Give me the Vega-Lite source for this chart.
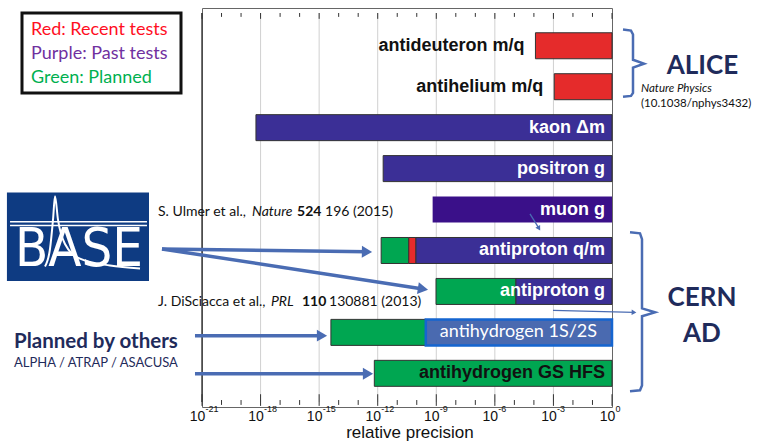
{
  "$schema": "https://vega.github.io/schema/vega-lite/v6.json",
  "width": 410,
  "height": 399,
  "autosize": {"type": "none"},
  "padding": {"left": 202, "top": 8, "right": 146, "bottom": 41},
  "background": "white",
  "config": {"view": {"stroke": "#666666", "strokeWidth": 1}},
  "datasets": {
    "bars": [
      {"row": 1, "start": 1.2e-4, "end": 1, "status": "Recent"},
      {"row": 2, "start": 1.1e-3, "end": 1, "status": "Recent"},
      {"row": 3, "start": 5.8e-19, "end": 1, "status": "Past"},
      {"row": 4, "start": 1.9e-12, "end": 1, "status": "Past"},
      {"row": 5, "start": 6.5e-10, "end": 1, "status": "Past (muon)"},
      {"row": 6, "start": 1.5e-12, "end": 3.9e-11, "status": "Planned"},
      {"row": 6, "start": 3.9e-11, "end": 9.1e-11, "status": "Recent"},
      {"row": 6, "start": 9.1e-11, "end": 1, "status": "Past"},
      {"row": 7, "start": 9.7e-10, "end": 1.2e-5, "status": "Planned"},
      {"row": 7, "start": 1.2e-5, "end": 1, "status": "Past"},
      {"row": 8, "start": 4.0e-15, "end": 2.9e-10, "status": "Planned"},
      {"row": 8, "start": 2.9e-10, "end": 1, "status": "Highlight"},
      {"row": 9, "start": 6.7e-13, "end": 1, "status": "Planned"}
    ],
    "labels": [
      {"row": 1, "label": "antideuteron m/q", "start": 1.2e-4, "end": 1, "kind": "outside"},
      {"row": 2, "label": "antihelium m/q", "start": 1.1e-3, "end": 1, "kind": "outside"},
      {"row": 3, "label": "kaon Δm", "start": 5.8e-19, "end": 1, "kind": "inside-light"},
      {"row": 4, "label": "positron g", "start": 1.9e-12, "end": 1, "kind": "inside-light"},
      {"row": 5, "label": "muon g", "start": 6.5e-10, "end": 1, "kind": "inside-light"},
      {"row": 6, "label": "antiproton q/m", "start": 1.5e-12, "end": 1, "kind": "inside-light"},
      {"row": 7, "label": "antiproton g", "start": 9.7e-10, "end": 1, "kind": "inside-light"},
      {"row": 8, "label": "antihydrogen 1S/2S", "start": 4.0e-15, "end": 1, "kind": "inside-plain"},
      {"row": 9, "label": "antihydrogen GS HFS", "start": 6.7e-13, "end": 1, "kind": "inside-dark"}
    ],
    "decades": [
      {"x": 1e-21, "major": true, "exp": "-21"}, {"x": 1e-20, "major": false}, {"x": 1e-19, "major": false},
      {"x": 1e-18, "major": true, "exp": "-18"}, {"x": 1e-17, "major": false}, {"x": 1e-16, "major": false},
      {"x": 1e-15, "major": true, "exp": "-15"}, {"x": 1e-14, "major": false}, {"x": 1e-13, "major": false},
      {"x": 1e-12, "major": true, "exp": "-12"}, {"x": 1e-11, "major": false}, {"x": 1e-10, "major": false},
      {"x": 1e-9, "major": true, "exp": "-9"}, {"x": 1e-8, "major": false}, {"x": 1e-7, "major": false},
      {"x": 1e-6, "major": true, "exp": "-6"}, {"x": 1e-5, "major": false}, {"x": 1e-4, "major": false},
      {"x": 1e-3, "major": true, "exp": "-3"}, {"x": 1e-2, "major": false}, {"x": 1e-1, "major": false},
      {"x": 1, "major": true, "exp": "0"}
    ],
    "notes": [
      {"text": "Red: Recent tests", "x": 1.74e-30, "y": 0.605, "part": "legend"},
      {"text": "Purple: Past tests", "x": 1.74e-30, "y": 1.2, "part": "legend"},
      {"text": "Green: Planned", "x": 1.74e-30, "y": 1.795, "part": "legend"},
      {"text": "S. Ulmer et al.,", "x": 5.57e-24, "y": 5.057, "part": "authors"},
      {"text": "Nature", "x": 3.64e-19, "y": 5.057, "part": "journal"},
      {"text": "524", "x": 7.35e-17, "y": 5.057, "part": "volume"},
      {"text": "196 (2015)", "x": 2.0e-15, "y": 5.057, "part": "authors"},
      {"text": "J. DiSciacca et al.,", "x": 5.57e-24, "y": 7.248, "part": "authors"},
      {"text": "PRL", "x": 3.42e-18, "y": 7.248, "part": "journal"},
      {"text": "110", "x": 1.32e-16, "y": 7.248, "part": "volume"},
      {"text": "130881 (2013)", "x": 3.2e-15, "y": 7.248, "part": "authors"},
      {"text": "Planned by others", "x": 2.35e-31, "y": 8.224, "part": "heading"},
      {"text": "ALPHA / ATRAP / ASACUSA", "x": 2.35e-31, "y": 8.748, "part": "members"},
      {"text": "ALICE", "x": 4.3e4, "y": 1.486, "part": "experiment"},
      {"text": "CERN", "x": 4.06e4, "y": 7.152, "part": "experiment"},
      {"text": "AD", "x": 4.06e4, "y": 8.033, "part": "experiment"},
      {"text": "Nature Physics", "x": 30.5, "y": 2.057, "part": "refjournal"},
      {"text": "(10.1038/nphys3432)", "x": 30.5, "y": 2.414, "part": "doi"},
      {"text": "relative precision", "x": 4.5e-11, "y": 10.462, "part": "axistitle"}
    ],
    "legendBox": [{"x": 6.03e-31, "x2": 8.4e-23, "y": 0.2, "y2": 2.152}],
    "logoBox": [{"x": 1.02e-31, "x2": 1.93e-24, "y": 4.581, "y2": 6.748, "text": "BASE", "tx": 5.0e-28, "ty": 6.39}],
    "logoLines": [
      {"x": 1.47e-31, "x2": 1.52e-24, "y": 5.295},
      {"x": 1.47e-31, "x2": 1.52e-24, "y": 5.39}
    ],
    "logoCurve": [
      {"x": 9.1e-30, "y": 6.39},
      {"x": 1.64e-29, "y": 5.962},
      {"x": 2.34e-29, "y": 5.248},
      {"x": 2.95e-29, "y": 4.676},
      {"x": 4.2e-29, "y": 5.248},
      {"x": 9.6e-29, "y": 5.843},
      {"x": 5.6e-28, "y": 6.2},
      {"x": 1.95e-26, "y": 6.367},
      {"x": 6.7e-25, "y": 6.438}
    ],
    "brackets": [
      {"g": "ALICE", "i": 0, "x": 3.66, "y": 0.605},
      {"g": "ALICE", "i": 1, "x": 9.4, "y": 0.629},
      {"g": "ALICE", "i": 2, "x": 11.9, "y": 0.724},
      {"g": "ALICE", "i": 3, "x": 11.9, "y": 1.343},
      {"g": "ALICE", "i": 4, "x": 43.6, "y": 1.438},
      {"g": "ALICE", "i": 5, "x": 11.9, "y": 1.533},
      {"g": "ALICE", "i": 6, "x": 11.9, "y": 2.152},
      {"g": "ALICE", "i": 7, "x": 9.4, "y": 2.224},
      {"g": "ALICE", "i": 8, "x": 3.66, "y": 2.248},
      {"g": "CERN", "i": 0, "x": 8.36, "y": 5.557},
      {"g": "CERN", "i": 1, "x": 27.2, "y": 5.581},
      {"g": "CERN", "i": 2, "x": 34.4, "y": 5.724},
      {"g": "CERN", "i": 3, "x": 34.4, "y": 7.414},
      {"g": "CERN", "i": 4, "x": 159, "y": 7.51},
      {"g": "CERN", "i": 5, "x": 34.4, "y": 7.605},
      {"g": "CERN", "i": 6, "x": 34.4, "y": 9.295},
      {"g": "CERN", "i": 7, "x": 27.2, "y": 9.414},
      {"g": "CERN", "i": 8, "x": 8.36, "y": 9.438}
    ],
    "thickArrows": [
      {"x": 8.93e-24, "y": 5.962, "x2": 2.82e-13, "y2": 6.033, "angle": 1},
      {"x": 8.93e-24, "y": 5.962, "x2": 2.08e-10, "y2": 6.938, "angle": 9},
      {"x": 4.37e-22, "y": 8.081, "x2": 1.4e-15, "y2": 8.081, "angle": 0},
      {"x": 4.37e-22, "y": 9.01, "x2": 3.18e-13, "y2": 9.01, "angle": 0}
    ],
    "thinArrows": [
      {"x": 9.5e-4, "y": 7.462, "x2": 13.4, "y2": 7.51, "angle": 2},
      {"x": 6.3e-5, "y": 5.105, "x2": 1.82e-4, "y2": 5.462, "angle": 59}
    ]
  },
  "layer": [
    {
      "data": {"name": "decades"},
      "transform": [{"filter": "datum.major && datum.x > 5e-21 && datum.x < 0.5"}],
      "mark": {"type": "rule", "color": "#d0d0d0", "strokeWidth": 1},
      "encoding": {
        "x": {"field": "x", "type": "quantitative", "scale": {"type": "log", "domain": [1e-21, 1], "nice": false}, "axis": null},
        "y": {"datum": 0.2, "type": "quantitative", "scale": {"domain": [0.2, 9.7], "reverse": true, "nice": false, "zero": false}, "axis": null},
        "y2": {"datum": 9.7}
      }
    },
    {
      "data": {"name": "decades"},
      "transform": [{"filter": "datum.x < 5e-21"}],
      "mark": {"type": "rule", "color": "#444444", "strokeWidth": 1.5},
      "encoding": {
        "x": {"field": "x", "type": "quantitative", "scale": {"type": "log", "domain": [1e-21, 1], "nice": false}, "axis": null},
        "y": {"datum": 0.2, "type": "quantitative", "scale": {"domain": [0.2, 9.7], "reverse": true, "nice": false, "zero": false}, "axis": null},
        "y2": {"datum": 9.7}
      }
    },
    {
      "data": {"name": "bars"},
      "mark": {"type": "bar", "orient": "horizontal", "size": 26},
      "encoding": {
        "x": {"field": "start", "type": "quantitative", "scale": {"type": "log", "domain": [1e-21, 1], "nice": false}, "axis": null, "title": "relative precision"},
        "x2": {"field": "end"},
        "y": {"field": "row", "type": "quantitative", "scale": {"domain": [0.2, 9.7], "reverse": true, "nice": false, "zero": false}, "axis": null},
        "fill": {
          "field": "status", "type": "nominal", "legend": null,
          "scale": {"domain": ["Recent", "Past", "Past (muon)", "Planned", "Highlight"], "range": ["#e52b2b", "#3b2f96", "#3a1089", "#00a651", "#4a6ab0"]}
        },
        "stroke": {"condition": [{"test": "datum.status === 'Highlight'", "value": "#1565d0"}, {"test": "datum.status === 'Past (muon)'", "value": "transparent"}], "value": "#333333"},
        "strokeWidth": {"condition": {"test": "datum.status === 'Highlight'", "value": 2.5}, "value": 1}
      }
    },
    {
      "data": {"name": "decades"},
      "transform": [{"filter": "datum.major"}],
      "mark": {"type": "rule", "color": "#333333", "strokeWidth": 1},
      "encoding": {
        "x": {"field": "x", "type": "quantitative", "scale": {"type": "log", "domain": [1e-21, 1], "nice": false}, "axis": null},
        "y": {"datum": 0.2, "type": "quantitative", "scale": {"domain": [0.2, 9.7], "reverse": true, "nice": false, "zero": false}, "axis": null},
        "y2": {"datum": 0.343}
      }
    },
    {
      "data": {"name": "decades"},
      "transform": [{"filter": "!datum.major"}],
      "mark": {"type": "rule", "color": "#333333", "strokeWidth": 1},
      "encoding": {
        "x": {"field": "x", "type": "quantitative", "scale": {"type": "log", "domain": [1e-21, 1], "nice": false}, "axis": null},
        "y": {"datum": 0.2, "type": "quantitative", "scale": {"domain": [0.2, 9.7], "reverse": true, "nice": false, "zero": false}, "axis": null},
        "y2": {"datum": 0.295}
      }
    },
    {
      "data": {"name": "decades"},
      "transform": [{"filter": "datum.major"}],
      "mark": {"type": "rule", "color": "#333333", "strokeWidth": 1},
      "encoding": {
        "x": {"field": "x", "type": "quantitative", "scale": {"type": "log", "domain": [1e-21, 1], "nice": false}, "axis": null},
        "y": {"datum": 9.51, "type": "quantitative", "scale": {"domain": [0.2, 9.7], "reverse": true, "nice": false, "zero": false}, "axis": null},
        "y2": {"datum": 9.795}
      }
    },
    {
      "data": {"name": "decades"},
      "transform": [{"filter": "!datum.major"}],
      "mark": {"type": "rule", "color": "#333333", "strokeWidth": 1},
      "encoding": {
        "x": {"field": "x", "type": "quantitative", "scale": {"type": "log", "domain": [1e-21, 1], "nice": false}, "axis": null},
        "y": {"datum": 9.652, "type": "quantitative", "scale": {"domain": [0.2, 9.7], "reverse": true, "nice": false, "zero": false}, "axis": null},
        "y2": {"datum": 9.771}
      }
    },
    {
      "data": {"name": "decades"},
      "transform": [{"filter": "datum.major"}],
      "mark": {"type": "text", "text": "10", "align": "center", "baseline": "middle", "dx": -4.5, "font": "Liberation Sans", "fontSize": 14, "color": "#111111"},
      "encoding": {
        "x": {"field": "x", "type": "quantitative", "scale": {"type": "log", "domain": [1e-21, 1], "nice": false}, "axis": null},
        "y": {"datum": 10.057, "type": "quantitative", "scale": {"domain": [0.2, 9.7], "reverse": true, "nice": false, "zero": false}, "axis": null}
      }
    },
    {
      "data": {"name": "decades"},
      "transform": [{"filter": "datum.major"}],
      "mark": {"type": "text", "align": "left", "baseline": "middle", "dx": 3.5, "font": "Liberation Sans", "fontSize": 9, "color": "#111111"},
      "encoding": {
        "x": {"field": "x", "type": "quantitative", "scale": {"type": "log", "domain": [1e-21, 1], "nice": false}, "axis": null},
        "y": {"datum": 9.867, "type": "quantitative", "scale": {"domain": [0.2, 9.7], "reverse": true, "nice": false, "zero": false}, "axis": null},
        "text": {"field": "exp"}
      }
    },
    {
      "data": {"name": "labels"},
      "transform": [{"filter": "datum.kind === 'outside'"}],
      "mark": {"type": "text", "align": "right", "baseline": "middle", "dx": -11, "font": "Liberation Sans", "fontWeight": "bold", "fontSize": 18, "color": "#111111"},
      "encoding": {
        "x": {"field": "start", "type": "quantitative", "scale": {"type": "log", "domain": [1e-21, 1], "nice": false}, "axis": null},
        "y": {"field": "row", "type": "quantitative", "scale": {"domain": [0.2, 9.7], "reverse": true, "nice": false, "zero": false}, "axis": null},
        "text": {"field": "label"}
      }
    },
    {
      "data": {"name": "labels"},
      "transform": [{"filter": "datum.kind === 'inside-light' || datum.kind === 'inside-dark'"}],
      "mark": {"type": "text", "align": "right", "baseline": "middle", "dx": -7, "font": "Liberation Sans", "fontWeight": "bold", "fontSize": 18},
      "encoding": {
        "x": {"field": "end", "type": "quantitative", "scale": {"type": "log", "domain": [1e-21, 1], "nice": false}, "axis": null},
        "y": {"field": "row", "type": "quantitative", "scale": {"domain": [0.2, 9.7], "reverse": true, "nice": false, "zero": false}, "axis": null},
        "text": {"field": "label"},
        "color": {"condition": {"test": "datum.kind === 'inside-dark'", "value": "#111111"}, "value": "#ffffff"}
      }
    },
    {
      "data": {"name": "labels"},
      "transform": [{"filter": "datum.kind === 'inside-plain'"}],
      "mark": {"type": "text", "align": "right", "baseline": "middle", "dx": -15, "font": "Lato", "fontSize": 18, "color": "#ffffff"},
      "encoding": {
        "x": {"field": "end", "type": "quantitative", "scale": {"type": "log", "domain": [1e-21, 1], "nice": false}, "axis": null},
        "y": {"field": "row", "type": "quantitative", "scale": {"domain": [0.2, 9.7], "reverse": true, "nice": false, "zero": false}, "axis": null},
        "text": {"field": "label"}
      }
    },
    {
      "data": {"name": "legendBox"},
      "mark": {"type": "rect", "fill": "#ffffff", "stroke": "#111111", "strokeWidth": 3},
      "encoding": {
        "x": {"field": "x", "type": "quantitative", "scale": {"type": "log", "domain": [1e-21, 1], "nice": false}, "axis": null},
        "y": {"field": "y", "type": "quantitative", "scale": {"domain": [0.2, 9.7], "reverse": true, "nice": false, "zero": false}, "axis": null},
        "x2": {"field": "x2"}, "y2": {"field": "y2"}
      }
    },
    {
      "data": {"name": "logoBox"},
      "mark": {"type": "rect", "fill": "#0e3b82"},
      "encoding": {
        "x": {"field": "x", "type": "quantitative", "scale": {"type": "log", "domain": [1e-21, 1], "nice": false}, "axis": null},
        "y": {"field": "y", "type": "quantitative", "scale": {"domain": [0.2, 9.7], "reverse": true, "nice": false, "zero": false}, "axis": null},
        "x2": {"field": "x2"}, "y2": {"field": "y2"}
      }
    },
    {
      "data": {"name": "logoLines"},
      "mark": {"type": "rule", "color": "#ffffff", "strokeWidth": 1.5},
      "encoding": {
        "x": {"field": "x", "type": "quantitative", "scale": {"type": "log", "domain": [1e-21, 1], "nice": false}, "axis": null},
        "y": {"field": "y", "type": "quantitative", "scale": {"domain": [0.2, 9.7], "reverse": true, "nice": false, "zero": false}, "axis": null},
        "x2": {"field": "x2"}
      }
    },
    {
      "data": {"name": "logoBox"},
      "mark": {"type": "text", "align": "center", "baseline": "alphabetic", "font": "Liberation Sans Narrow, DejaVu Sans Condensed, sans-serif", "fontSize": 54, "color": "#ffffff"},
      "encoding": {
        "x": {"field": "tx", "type": "quantitative", "scale": {"type": "log", "domain": [1e-21, 1], "nice": false}, "axis": null},
        "y": {"field": "ty", "type": "quantitative", "scale": {"domain": [0.2, 9.7], "reverse": true, "nice": false, "zero": false}, "axis": null},
        "text": {"field": "text"}
      }
    },
    {
      "data": {"name": "logoCurve"},
      "mark": {"type": "line", "color": "#ffffff", "strokeWidth": 2, "interpolate": "monotone"},
      "encoding": {
        "x": {"field": "x", "type": "quantitative", "scale": {"type": "log", "domain": [1e-21, 1], "nice": false}, "axis": null},
        "y": {"field": "y", "type": "quantitative", "scale": {"domain": [0.2, 9.7], "reverse": true, "nice": false, "zero": false}, "axis": null}
      }
    },
    {
      "data": {"name": "brackets"},
      "mark": {"type": "line", "color": "#4a6cb3", "strokeWidth": 2.5},
      "encoding": {
        "x": {"field": "x", "type": "quantitative", "scale": {"type": "log", "domain": [1e-21, 1], "nice": false}, "axis": null},
        "y": {"field": "y", "type": "quantitative", "scale": {"domain": [0.2, 9.7], "reverse": true, "nice": false, "zero": false}, "axis": null},
        "detail": {"field": "g"}, "order": {"field": "i", "type": "quantitative"}
      }
    },
    {
      "data": {"name": "thickArrows"},
      "mark": {"type": "rule", "color": "#4a6cb3", "strokeWidth": 3.5},
      "encoding": {
        "x": {"field": "x", "type": "quantitative", "scale": {"type": "log", "domain": [1e-21, 1], "nice": false}, "axis": null},
        "y": {"field": "y", "type": "quantitative", "scale": {"domain": [0.2, 9.7], "reverse": true, "nice": false, "zero": false}, "axis": null},
        "x2": {"field": "x2"}, "y2": {"field": "y2"}
      }
    },
    {
      "data": {"name": "thickArrows"},
      "mark": {"type": "point", "shape": "triangle-right", "filled": true, "opacity": 1, "color": "#4a6cb3", "size": 140},
      "encoding": {
        "x": {"field": "x2", "type": "quantitative", "scale": {"type": "log", "domain": [1e-21, 1], "nice": false}, "axis": null},
        "y": {"field": "y2", "type": "quantitative", "scale": {"domain": [0.2, 9.7], "reverse": true, "nice": false, "zero": false}, "axis": null},
        "angle": {"field": "angle", "type": "quantitative", "scale": null}
      }
    },
    {
      "data": {"name": "thinArrows"},
      "mark": {"type": "rule", "color": "#4a6cb3", "strokeWidth": 1.3},
      "encoding": {
        "x": {"field": "x", "type": "quantitative", "scale": {"type": "log", "domain": [1e-21, 1], "nice": false}, "axis": null},
        "y": {"field": "y", "type": "quantitative", "scale": {"domain": [0.2, 9.7], "reverse": true, "nice": false, "zero": false}, "axis": null},
        "x2": {"field": "x2"}, "y2": {"field": "y2"}
      }
    },
    {
      "data": {"name": "thinArrows"},
      "mark": {"type": "point", "shape": "triangle-right", "filled": true, "opacity": 1, "color": "#4a6cb3", "size": 30},
      "encoding": {
        "x": {"field": "x2", "type": "quantitative", "scale": {"type": "log", "domain": [1e-21, 1], "nice": false}, "axis": null},
        "y": {"field": "y2", "type": "quantitative", "scale": {"domain": [0.2, 9.7], "reverse": true, "nice": false, "zero": false}, "axis": null},
        "angle": {"field": "angle", "type": "quantitative", "scale": null}
      }
    },
    {
      "data": {"name": "notes"},
      "transform": [{"filter": "datum.part === 'legend'"}],
      "mark": {"type": "text", "align": "left", "baseline": "middle", "font": "Lato", "fontSize": 18},
      "encoding": {
        "x": {"field": "x", "type": "quantitative", "scale": {"type": "log", "domain": [1e-21, 1], "nice": false}, "axis": null},
        "y": {"field": "y", "type": "quantitative", "scale": {"domain": [0.2, 9.7], "reverse": true, "nice": false, "zero": false}, "axis": null},
        "text": {"field": "text"},
        "color": {"field": "text", "type": "nominal", "legend": null, "scale": {"domain": ["Red: Recent tests", "Purple: Past tests", "Green: Planned"], "range": ["#ff0f1f", "#7030a0", "#00b050"]}}
      }
    },
    {
      "data": {"name": "notes"},
      "transform": [{"filter": "datum.part === 'authors'"}],
      "mark": {"type": "text", "align": "left", "baseline": "middle", "font": "Lato", "fontSize": 14, "color": "#111111"},
      "encoding": {
        "x": {"field": "x", "type": "quantitative", "scale": {"type": "log", "domain": [1e-21, 1], "nice": false}, "axis": null},
        "y": {"field": "y", "type": "quantitative", "scale": {"domain": [0.2, 9.7], "reverse": true, "nice": false, "zero": false}, "axis": null},
        "text": {"field": "text"}
      }
    },
    {
      "data": {"name": "notes"},
      "transform": [{"filter": "datum.part === 'journal'"}],
      "mark": {"type": "text", "align": "left", "baseline": "middle", "font": "Lato", "fontStyle": "italic", "fontSize": 14, "color": "#111111"},
      "encoding": {
        "x": {"field": "x", "type": "quantitative", "scale": {"type": "log", "domain": [1e-21, 1], "nice": false}, "axis": null},
        "y": {"field": "y", "type": "quantitative", "scale": {"domain": [0.2, 9.7], "reverse": true, "nice": false, "zero": false}, "axis": null},
        "text": {"field": "text"}
      }
    },
    {
      "data": {"name": "notes"},
      "transform": [{"filter": "datum.part === 'volume'"}],
      "mark": {"type": "text", "align": "left", "baseline": "middle", "font": "Lato", "fontWeight": "bold", "fontSize": 14, "color": "#111111"},
      "encoding": {
        "x": {"field": "x", "type": "quantitative", "scale": {"type": "log", "domain": [1e-21, 1], "nice": false}, "axis": null},
        "y": {"field": "y", "type": "quantitative", "scale": {"domain": [0.2, 9.7], "reverse": true, "nice": false, "zero": false}, "axis": null},
        "text": {"field": "text"}
      }
    },
    {
      "data": {"name": "notes"},
      "transform": [{"filter": "datum.part === 'heading'"}],
      "mark": {"type": "text", "align": "left", "baseline": "middle", "font": "Lato", "fontWeight": "bold", "fontSize": 20.5, "color": "#1f2b5b"},
      "encoding": {
        "x": {"field": "x", "type": "quantitative", "scale": {"type": "log", "domain": [1e-21, 1], "nice": false}, "axis": null},
        "y": {"field": "y", "type": "quantitative", "scale": {"domain": [0.2, 9.7], "reverse": true, "nice": false, "zero": false}, "axis": null},
        "text": {"field": "text"}
      }
    },
    {
      "data": {"name": "notes"},
      "transform": [{"filter": "datum.part === 'members'"}],
      "mark": {"type": "text", "align": "left", "baseline": "middle", "font": "Lato", "fontSize": 13, "color": "#1f2b5b"},
      "encoding": {
        "x": {"field": "x", "type": "quantitative", "scale": {"type": "log", "domain": [1e-21, 1], "nice": false}, "axis": null},
        "y": {"field": "y", "type": "quantitative", "scale": {"domain": [0.2, 9.7], "reverse": true, "nice": false, "zero": false}, "axis": null},
        "text": {"field": "text"}
      }
    },
    {
      "data": {"name": "notes"},
      "transform": [{"filter": "datum.part === 'experiment'"}],
      "mark": {"type": "text", "align": "center", "baseline": "middle", "font": "Lato", "fontWeight": "bold", "fontSize": 26, "color": "#1f2b5b"},
      "encoding": {
        "x": {"field": "x", "type": "quantitative", "scale": {"type": "log", "domain": [1e-21, 1], "nice": false}, "axis": null},
        "y": {"field": "y", "type": "quantitative", "scale": {"domain": [0.2, 9.7], "reverse": true, "nice": false, "zero": false}, "axis": null},
        "text": {"field": "text"}
      }
    },
    {
      "data": {"name": "notes"},
      "transform": [{"filter": "datum.part === 'refjournal'"}],
      "mark": {"type": "text", "align": "left", "baseline": "middle", "font": "Lato", "fontStyle": "italic", "fontSize": 11.5, "color": "#111111"},
      "encoding": {
        "x": {"field": "x", "type": "quantitative", "scale": {"type": "log", "domain": [1e-21, 1], "nice": false}, "axis": null},
        "y": {"field": "y", "type": "quantitative", "scale": {"domain": [0.2, 9.7], "reverse": true, "nice": false, "zero": false}, "axis": null},
        "text": {"field": "text"}
      }
    },
    {
      "data": {"name": "notes"},
      "transform": [{"filter": "datum.part === 'doi'"}],
      "mark": {"type": "text", "align": "left", "baseline": "middle", "font": "Lato", "fontSize": 11.5, "color": "#111111"},
      "encoding": {
        "x": {"field": "x", "type": "quantitative", "scale": {"type": "log", "domain": [1e-21, 1], "nice": false}, "axis": null},
        "y": {"field": "y", "type": "quantitative", "scale": {"domain": [0.2, 9.7], "reverse": true, "nice": false, "zero": false}, "axis": null},
        "text": {"field": "text"}
      }
    },
    {
      "data": {"name": "notes"},
      "transform": [{"filter": "datum.part === 'axistitle'"}],
      "mark": {"type": "text", "align": "center", "baseline": "middle", "font": "Liberation Sans", "fontSize": 17, "color": "#111111"},
      "encoding": {
        "x": {"field": "x", "type": "quantitative", "scale": {"type": "log", "domain": [1e-21, 1], "nice": false}, "axis": null},
        "y": {"field": "y", "type": "quantitative", "scale": {"domain": [0.2, 9.7], "reverse": true, "nice": false, "zero": false}, "axis": null},
        "text": {"field": "text"}
      }
    }
  ]
}
